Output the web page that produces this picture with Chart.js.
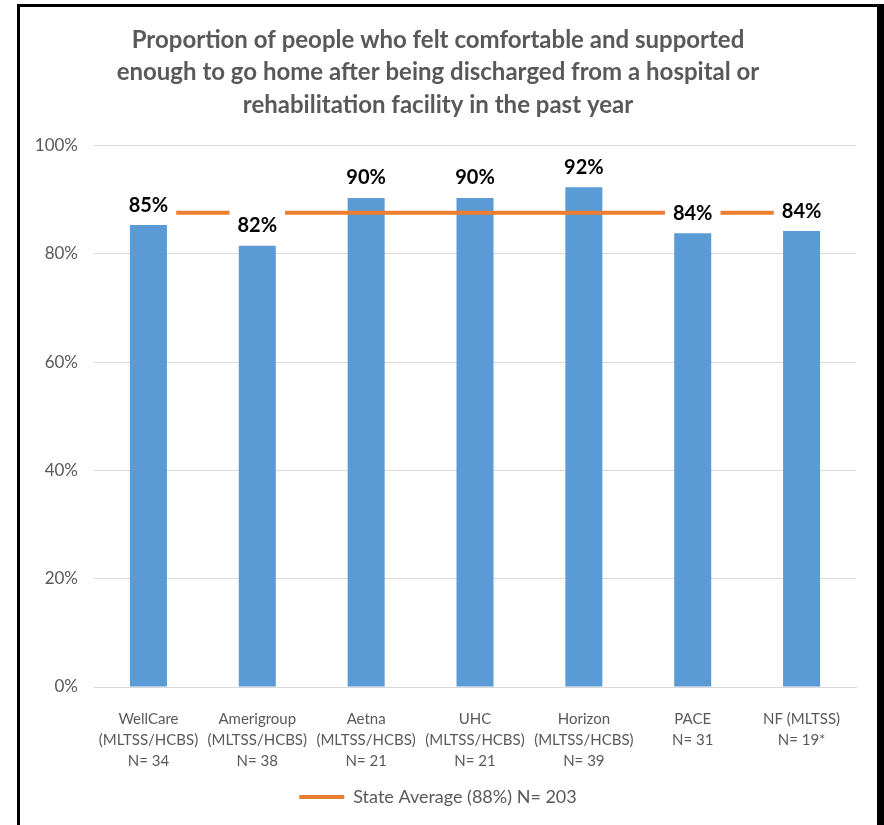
<!DOCTYPE html>
<html>
<head>
<meta charset="utf-8">
<script src="https://cdn.jsdelivr.net/npm/chart.js@4"></script>
<style>
  html, body { margin: 0; padding: 0; background: #fff; overflow: hidden; }
  #frame {
    position: absolute; left: 17px; top: 4px;
    width: 857px; height: 818px;
    border: 3px solid #000; border-right-width: 7px; border-bottom: none;
  }
  #chart { display: block; }
</style>
</head>
<body>
<div id="frame"><canvas id="chart" width="857" height="818"></canvas></div>
<script>
const categories = [
    ["WellCare", "(MLTSS/HCBS)", "N= 34"],
    ["Amerigroup", "(MLTSS/HCBS)", "N= 38"],
    ["Aetna", "(MLTSS/HCBS)", "N= 21"],
    ["UHC", "(MLTSS/HCBS)", "N= 21"],
    ["Horizon", "(MLTSS/HCBS)", "N= 39"],
    ["PACE", "N= 31"],
    ["NF (MLTSS)", "N= 19*"],
];
const planValues = [85.3, 81.5, 90.3, 90.3, 92.3, 83.8, 84.2];
const stateAverage = [87.6, 87.6, 87.6, 87.6, 87.6, 87.6, 87.6];
const yTicks = [0, 20, 40, 60, 80, 100];
const titleLines = [
    "Proportion of people who felt comfortable and supported",
    "enough to go home after being discharged from a hospital or",
    "rehabilitation facility in the past year",
];

Chart.defaults.font.family = "Lato, 'Liberation Sans', sans-serif";
const gray = "#595959";

// value labels over the bars, on a white box that cuts the average line
const barLabels = {
    id: "barLabels",
    afterDatasetsDraw(chart) {
        const ctx = chart.ctx;
        const meta = chart.getDatasetMeta(0);
        ctx.save();
        ctx.font = "bold 20px Lato, 'Liberation Sans', sans-serif";
        ctx.textAlign = "center";
        ctx.textBaseline = "middle";
        meta.data.forEach((bar, i) => {
            const text = Math.round(planValues[i]) + "%";
            const w = ctx.measureText(text).width;
            const cy = bar.y - 20;
            ctx.fillStyle = "#fff";
            ctx.fillRect(bar.x - w / 2 - 8, cy - 16, w + 16, 32);
            ctx.fillStyle = "#000";
            ctx.fillText(text, bar.x, cy);
        });
        ctx.restore();
    },
};

const chartEl = document.getElementById("chart");
const mainChart = new Chart(chartEl, {
    type: "bar",
    data: {
        labels: categories,
        datasets: [
            {
                label: "Plans",
                data: planValues,
                backgroundColor: "#5B9BD5",
                borderWidth: 0,
                categoryPercentage: 0.34,
                barPercentage: 1,
                order: 2,
            },
            {
                label: "State Average (88%) N= 203",
                type: "line",
                data: stateAverage,
                borderColor: "#ED7D31",
                backgroundColor: "#ED7D31",
                borderWidth: 4,
                borderCapStyle: "round",
                pointRadius: 0,
                pointStyle: "line",
                fill: false,
                order: 1,
            },
        ],
    },
    options: {
        responsive: false,
        animation: false,
        layout: { padding: { left: 0, right: 21, top: 0, bottom: 9 } },
        plugins: {
            title: {
                display: true,
                text: titleLines,
                color: gray,
                font: { size: 24, weight: "bold", lineHeight: "32.5px" },
                padding: { top: 17, bottom: 24 },
            },
            legend: {
                position: "bottom",
                labels: {
                    filter: (item) => item.datasetIndex === 1,
                    usePointStyle: true,
                    pointStyleWidth: 45,
                    color: gray,
                    font: { size: 18 },
                    padding: 10,
                },
            },
            tooltip: { enabled: false },
        },
        scales: {
            x: {
                grid: { display: false },
                border: { display: true, color: "#d9d9d9" },
                ticks: {
                    color: gray,
                    font: { size: 15, lineHeight: 1.43 },
                    padding: 13,
                    autoSkip: false,
                    maxRotation: 0,
                },
                afterFit: (s) => { s.height = 91; },
            },
            y: {
                min: 0,
                max: 100,
                afterBuildTicks: (s) => { s.ticks = yTicks.map((v) => ({ value: v })); },
                ticks: {
                    color: gray,
                    font: { size: 17 },
                    padding: 16,
                    callback: (v) => v + "%",
                },
                grid: { color: "#d9d9d9", drawTicks: false },
                border: { display: false },
                afterFit: (s) => { s.width = 74; },
            },
        },
    },
    plugins: [barLabels],
});
</script>
</body>
</html>
